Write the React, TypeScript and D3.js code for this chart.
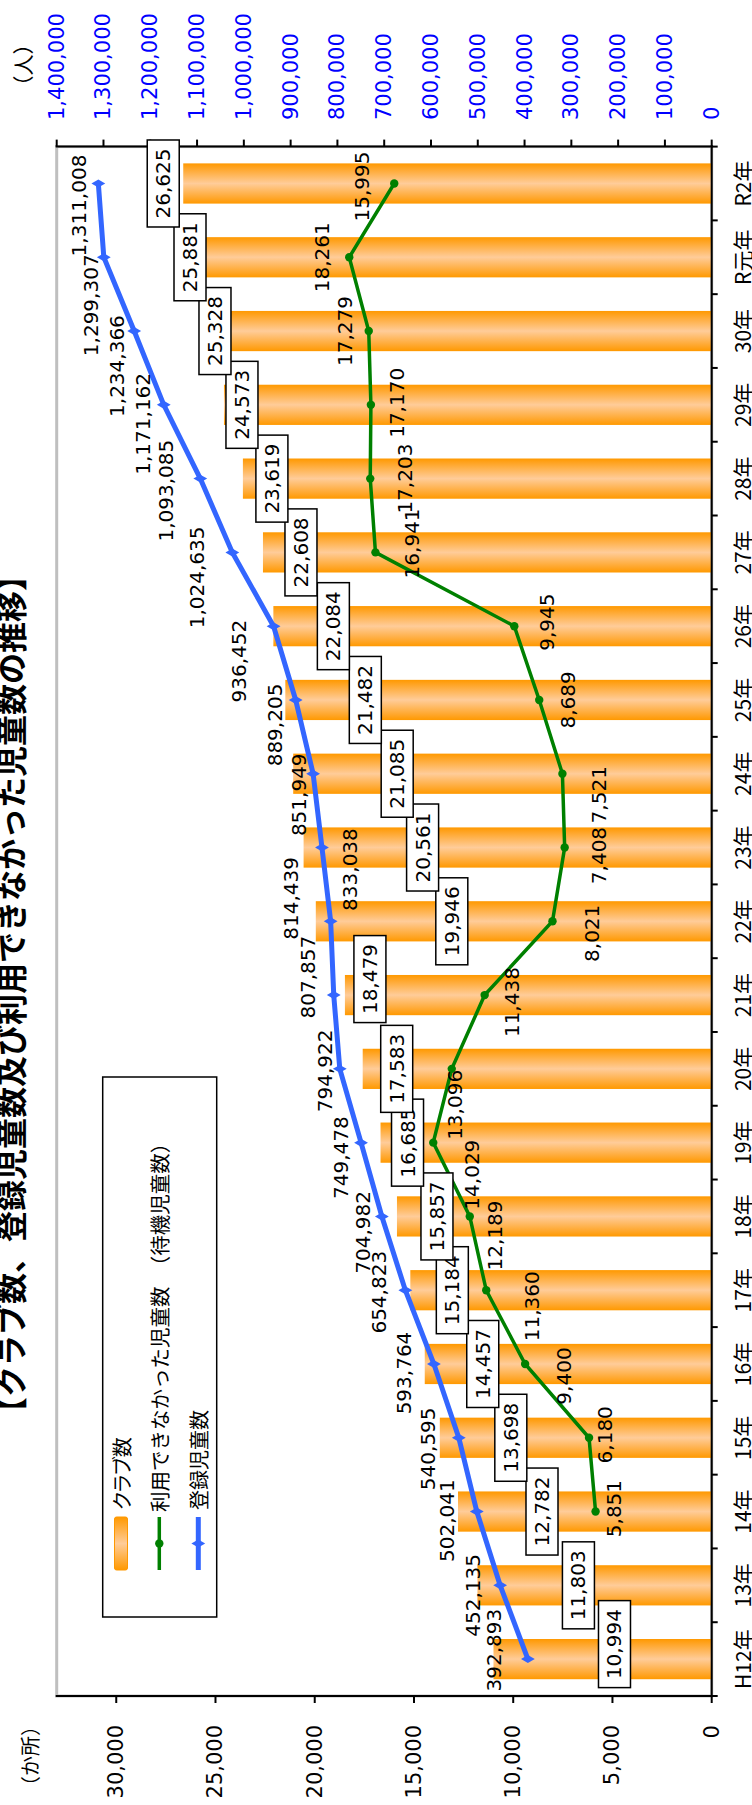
import React from "react";
import * as d3 from "d3";

// Fiscal years (Heisei 12 through Reiwa 2)
const years = [
  "H12年", "13年", "14年", "15年", "16年", "17年", "18年", "19年", "20年", "21年",
  "22年", "23年", "24年", "25年", "26年", "27年", "28年", "29年", "30年", "R元年", "R2年",
];

// Number of clubs (か所)
const clubs = [
  10994, 11803, 12782, 13698, 14457, 15184, 15857, 16685, 17583, 18479,
  19946, 20561, 21085, 21482, 22084, 22608, 23619, 24573, 25328, 25881, 26625,
];

// Registered children (人)
const registered = [
  392893, 452135, 502041, 540595, 593764, 654823, 704982, 749478, 794922, 807857,
  814439, 833038, 851949, 889205, 936452, 1024635, 1093085, 1171162, 1234366, 1299307, 1311008,
];

// Children who could not be enrolled (waiting list); no data before H14
const waiting: (number | null)[] = [
  null, null, 5851, 6180, 9400, 11360, 12189, 14029, 13096, 11438,
  8021, 7408, 7521, 8689, 9945, 16941, 17203, 17170, 17279, 18261, 15995,
];

const clubTicks = [0, 5000, 10000, 15000, 20000, 25000, 30000];
const childTicks = [
  0, 100000, 200000, 300000, 400000, 500000, 600000, 700000,
  800000, 900000, 1000000, 1100000, 1200000, 1300000, 1400000,
];

// Label placement tweaks, in the landscape frame: [along category, across value]
const clubBoxShift = [121, 101, 84, 71, 58, 42, 40, 27, 34, 25, 136, 119, 104, 80, 60, 38, 29, 18, 6, -8, -20];
const clubBoxAlong = [15, 0, 0, 0, 0, 0, 0, 0, 0, 16, 0, 0, 0, 0, 0, 0, 0, 0, 0, 0, 0];
const regNudge: [number, number][] = [
  [9, -34], [-10, -27], [-9, -30], [-11, -31], [-9, -30], [-2, -26], [-16, -19], [-15, -20],
  [-2, -15], [18, -26], [23, -40], [-22, 28], [-21, -14], [-25, -21], [-35, -35], [-25, -35],
  [-12, -34], [-19, -21], [-35, -17], [-48, -13], [-22, -19],
];
const waitNudge: ([number, number] | null)[] = [
  null, null, [3, 18], [3, 16], [-12, 39], [-16, 46], [-19, 25], [-32, 39], [-36, 3], [-7, 27],
  [-12, 40], [-8, 34], [-21, 37], [0, 29], [4, 33], [9, 37], [0, 35], [2, 26], [0, -24], [0, -27], [-3, -32],
];

const NUM_FONT = "'DejaVu Sans', Verdana, sans-serif";
const JP_FONT = "'Noto Sans CJK JP', 'DejaVu Sans', sans-serif";
const BLUE = "#3366FF";
const GREEN = "#008000";

export default function App() {
  // The chart is laid out landscape (W x H) and turned a quarter turn onto the page
  const W = 1805;
  const plot = { left: 109, right: 1658.4, top: 56.7, bottom: 711.7 };

  const x = d3.scaleBand<string>().domain(years).range([plot.left, plot.right]);
  const yClub = d3.scaleLinear().domain([0, 33000]).range([plot.bottom, plot.top]);
  const yChild = d3.scaleLinear().domain([0, 1400000]).range([plot.bottom, plot.top]);
  const cx = (i: number) => (x(years[i]) as number) + x.bandwidth() / 2;
  const barW = x.bandwidth() * 0.545;
  const fmt = d3.format(",");

  const regLine = d3
    .line<number>()
    .x((_, i) => cx(i))
    .y((d) => yChild(d));
  const waitLine = d3
    .line<number | null>()
    .defined((d) => d != null)
    .x((_, i) => cx(i))
    .y((d) => yClub(d as number));
  const diamond = d3.symbol(d3.symbolDiamond, 55)();

  const bounds = x.domain().map((d) => x(d) as number).concat([plot.right]);

  return (
    <svg
      width={752}
      height={1805}
      style={{ position: "absolute", left: 0, top: 0, background: "#fff" }}
    >
      <defs>
        <linearGradient id="barGrad" x1="0" x2="1" y1="0" y2="0">
          <stop offset="0" stopColor="#FF9900" />
          <stop offset="0.12" stopColor="#FFA526" />
          <stop offset="0.5" stopColor="#FFCC99" />
          <stop offset="0.88" stopColor="#FFA526" />
          <stop offset="1" stopColor="#FF9900" />
        </linearGradient>
        <linearGradient id="legGrad" x1="0" x2="1" y1="0" y2="0">
          <stop offset="0" stopColor="#FF9900" />
          <stop offset="0.5" stopColor="#FFCC99" />
          <stop offset="1" stopColor="#FF9900" />
        </linearGradient>
      </defs>
      <g transform={`translate(0,${W}) rotate(-90)`}>
        {/* title */}
        <text
          x={811}
          y={23}
          textAnchor="middle"
          fontFamily={JP_FONT}
          fontWeight="bold"
          fontSize={31}
        >
          【クラブ数、登録児童数及び利用できなかった児童数の推移】
        </text>

        {/* plot frame */}
        <rect
          x={plot.left}
          y={plot.top}
          width={plot.right - plot.left}
          height={plot.bottom - plot.top}
          fill="none"
          stroke="#BFBFBF"
          strokeWidth={3}
        />

        {/* club bars */}
        {clubs.map((v, i) => (
          <rect
            key={years[i]}
            x={cx(i) - barW / 2}
            y={yClub(v)}
            width={barW}
            height={plot.bottom - yClub(v)}
            fill="url(#barGrad)"
          />
        ))}

        {/* waiting-list line */}
        <path d={waitLine(waiting) as string} fill="none" stroke={GREEN} strokeWidth={3.5} />
        {waiting.map((v, i) =>
          v == null ? null : (
            <circle key={"wc" + i} cx={cx(i)} cy={yClub(v)} r={4.2} fill={GREEN} />
          )
        )}

        {/* registered children line */}
        <path d={regLine(registered) as string} fill="none" stroke={BLUE} strokeWidth={5} />
        {registered.map((v, i) => (
          <path
            key={"rd" + i}
            d={diamond as string}
            transform={`translate(${cx(i)},${yChild(v)})`}
            fill={BLUE}
          />
        ))}

        {/* axes */}
        <g stroke="#000" strokeWidth={2}>
          <line x1={plot.left} x2={plot.left} y1={plot.top - 1} y2={plot.bottom + 1} />
          <line x1={plot.right} x2={plot.right} y1={plot.top - 1} y2={plot.bottom + 1} />
          <line x1={plot.left - 1} x2={plot.right + 1} y1={plot.bottom} y2={plot.bottom} />
          {clubTicks.map((t) => (
            <line key={"ct" + t} x1={plot.left - 7} x2={plot.left} y1={yClub(t)} y2={yClub(t)} />
          ))}
          {childTicks.map((t) => (
            <line key={"kt" + t} x1={plot.right} x2={plot.right + 7} y1={yChild(t)} y2={yChild(t)} />
          ))}
          {bounds.map((b, i) => (
            <line key={"bt" + i} x1={b} x2={b} y1={plot.bottom} y2={plot.bottom + 6} />
          ))}
        </g>

        {/* club axis labels */}
        {clubTicks.map((t) => (
          <text
            key={"cl" + t}
            x={80}
            y={yClub(t)}
            textAnchor="end"
            dominantBaseline="central"
            fontFamily={NUM_FONT}
            fontSize={21}
          >
            {fmt(t)}
          </text>
        ))}
        <text
          x={49}
          y={29}
          textAnchor="middle"
          dominantBaseline="central"
          fontFamily={JP_FONT}
          fontSize={20}
        >
          （か所）
        </text>

        {/* children axis labels */}
        {childTicks.map((t) => (
          <text
            key={"kl" + t}
            x={1685}
            y={yChild(t)}
            textAnchor="start"
            dominantBaseline="central"
            fontFamily={NUM_FONT}
            fontSize={21}
            fill="#0000FF"
          >
            {fmt(t)}
          </text>
        ))}
        <text
          x={1740}
          y={22}
          textAnchor="middle"
          dominantBaseline="central"
          fontFamily={JP_FONT}
          fontSize={21}
        >
          （人）
        </text>

        {/* year labels */}
        {years.map((yr, i) => (
          <text
            key={"yl" + yr}
            x={cx(i)}
            y={741.5}
            textAnchor="middle"
            dominantBaseline="central"
            fontFamily={JP_FONT}
            fontSize={21}
          >
            {yr}
          </text>
        ))}

        {/* registered children value labels */}
        {registered.map((v, i) => (
          <text
            key={"rl" + i}
            x={cx(i) + regNudge[i][0]}
            y={yChild(v) + regNudge[i][1]}
            textAnchor="middle"
            dominantBaseline="central"
            fontFamily={NUM_FONT}
            fontSize={20}
          >
            {fmt(v)}
          </text>
        ))}

        {/* waiting-list value labels */}
        {waiting.map((v, i) => {
          const n = waitNudge[i];
          if (v == null || !n) return null;
          return (
            <text
              key={"wl" + i}
              x={cx(i) + n[0]}
              y={yClub(v) + n[1]}
              textAnchor="middle"
              dominantBaseline="central"
              fontFamily={NUM_FONT}
              fontSize={20}
            >
              {fmt(v)}
            </text>
          );
        })}

        {/* club value labels in boxes */}
        {clubs.map((v, i) => {
          const bx = cx(i) + clubBoxAlong[i];
          const by = yClub(v) + clubBoxShift[i];
          return (
            <g key={"cb" + i}>
              <rect
                x={bx - 43.5}
                y={by - 16}
                width={87}
                height={32}
                fill="#fff"
                stroke="#000"
                strokeWidth={1.5}
              />
              <text
                x={bx}
                y={by}
                textAnchor="middle"
                dominantBaseline="central"
                fontFamily={NUM_FONT}
                fontSize={20}
              >
                {fmt(v)}
              </text>
            </g>
          );
        })}

        {/* legend */}
        <g>
          <rect x={188} y={102.7} width={540} height={114} fill="#fff" stroke="#000" strokeWidth={1.5} />
          <rect x={235} y={114.5} width={53} height={13} rx={2} fill="url(#legGrad)" stroke="#FF9900" strokeWidth={1} />
          <line x1={235} x2={288} y1={159.3} y2={159.3} stroke={GREEN} strokeWidth={3.5} />
          <circle cx={261.5} cy={159.3} r={4.2} fill={GREEN} />
          <line x1={235} x2={288} y1={198.3} y2={198.3} stroke={BLUE} strokeWidth={5} />
          <path d={diamond as string} transform="translate(261.5,198.3)" fill={BLUE} />
          <text
            x={295}
            y={121}
            dominantBaseline="central"
            fontFamily={JP_FONT}
            fontSize={20}
            style={{ fontFeatureSettings: "'palt'" }}
          >
            クラブ数
          </text>
          <text x={293} y={159.3} dominantBaseline="central" fontFamily={JP_FONT} fontSize={20.5}>
            利用できなかった児童数　（待機児童数）
          </text>
          <text x={295} y={198.3} dominantBaseline="central" fontFamily={JP_FONT} fontSize={20}>
            登録児童数
          </text>
        </g>
      </g>
    </svg>
  );
}
